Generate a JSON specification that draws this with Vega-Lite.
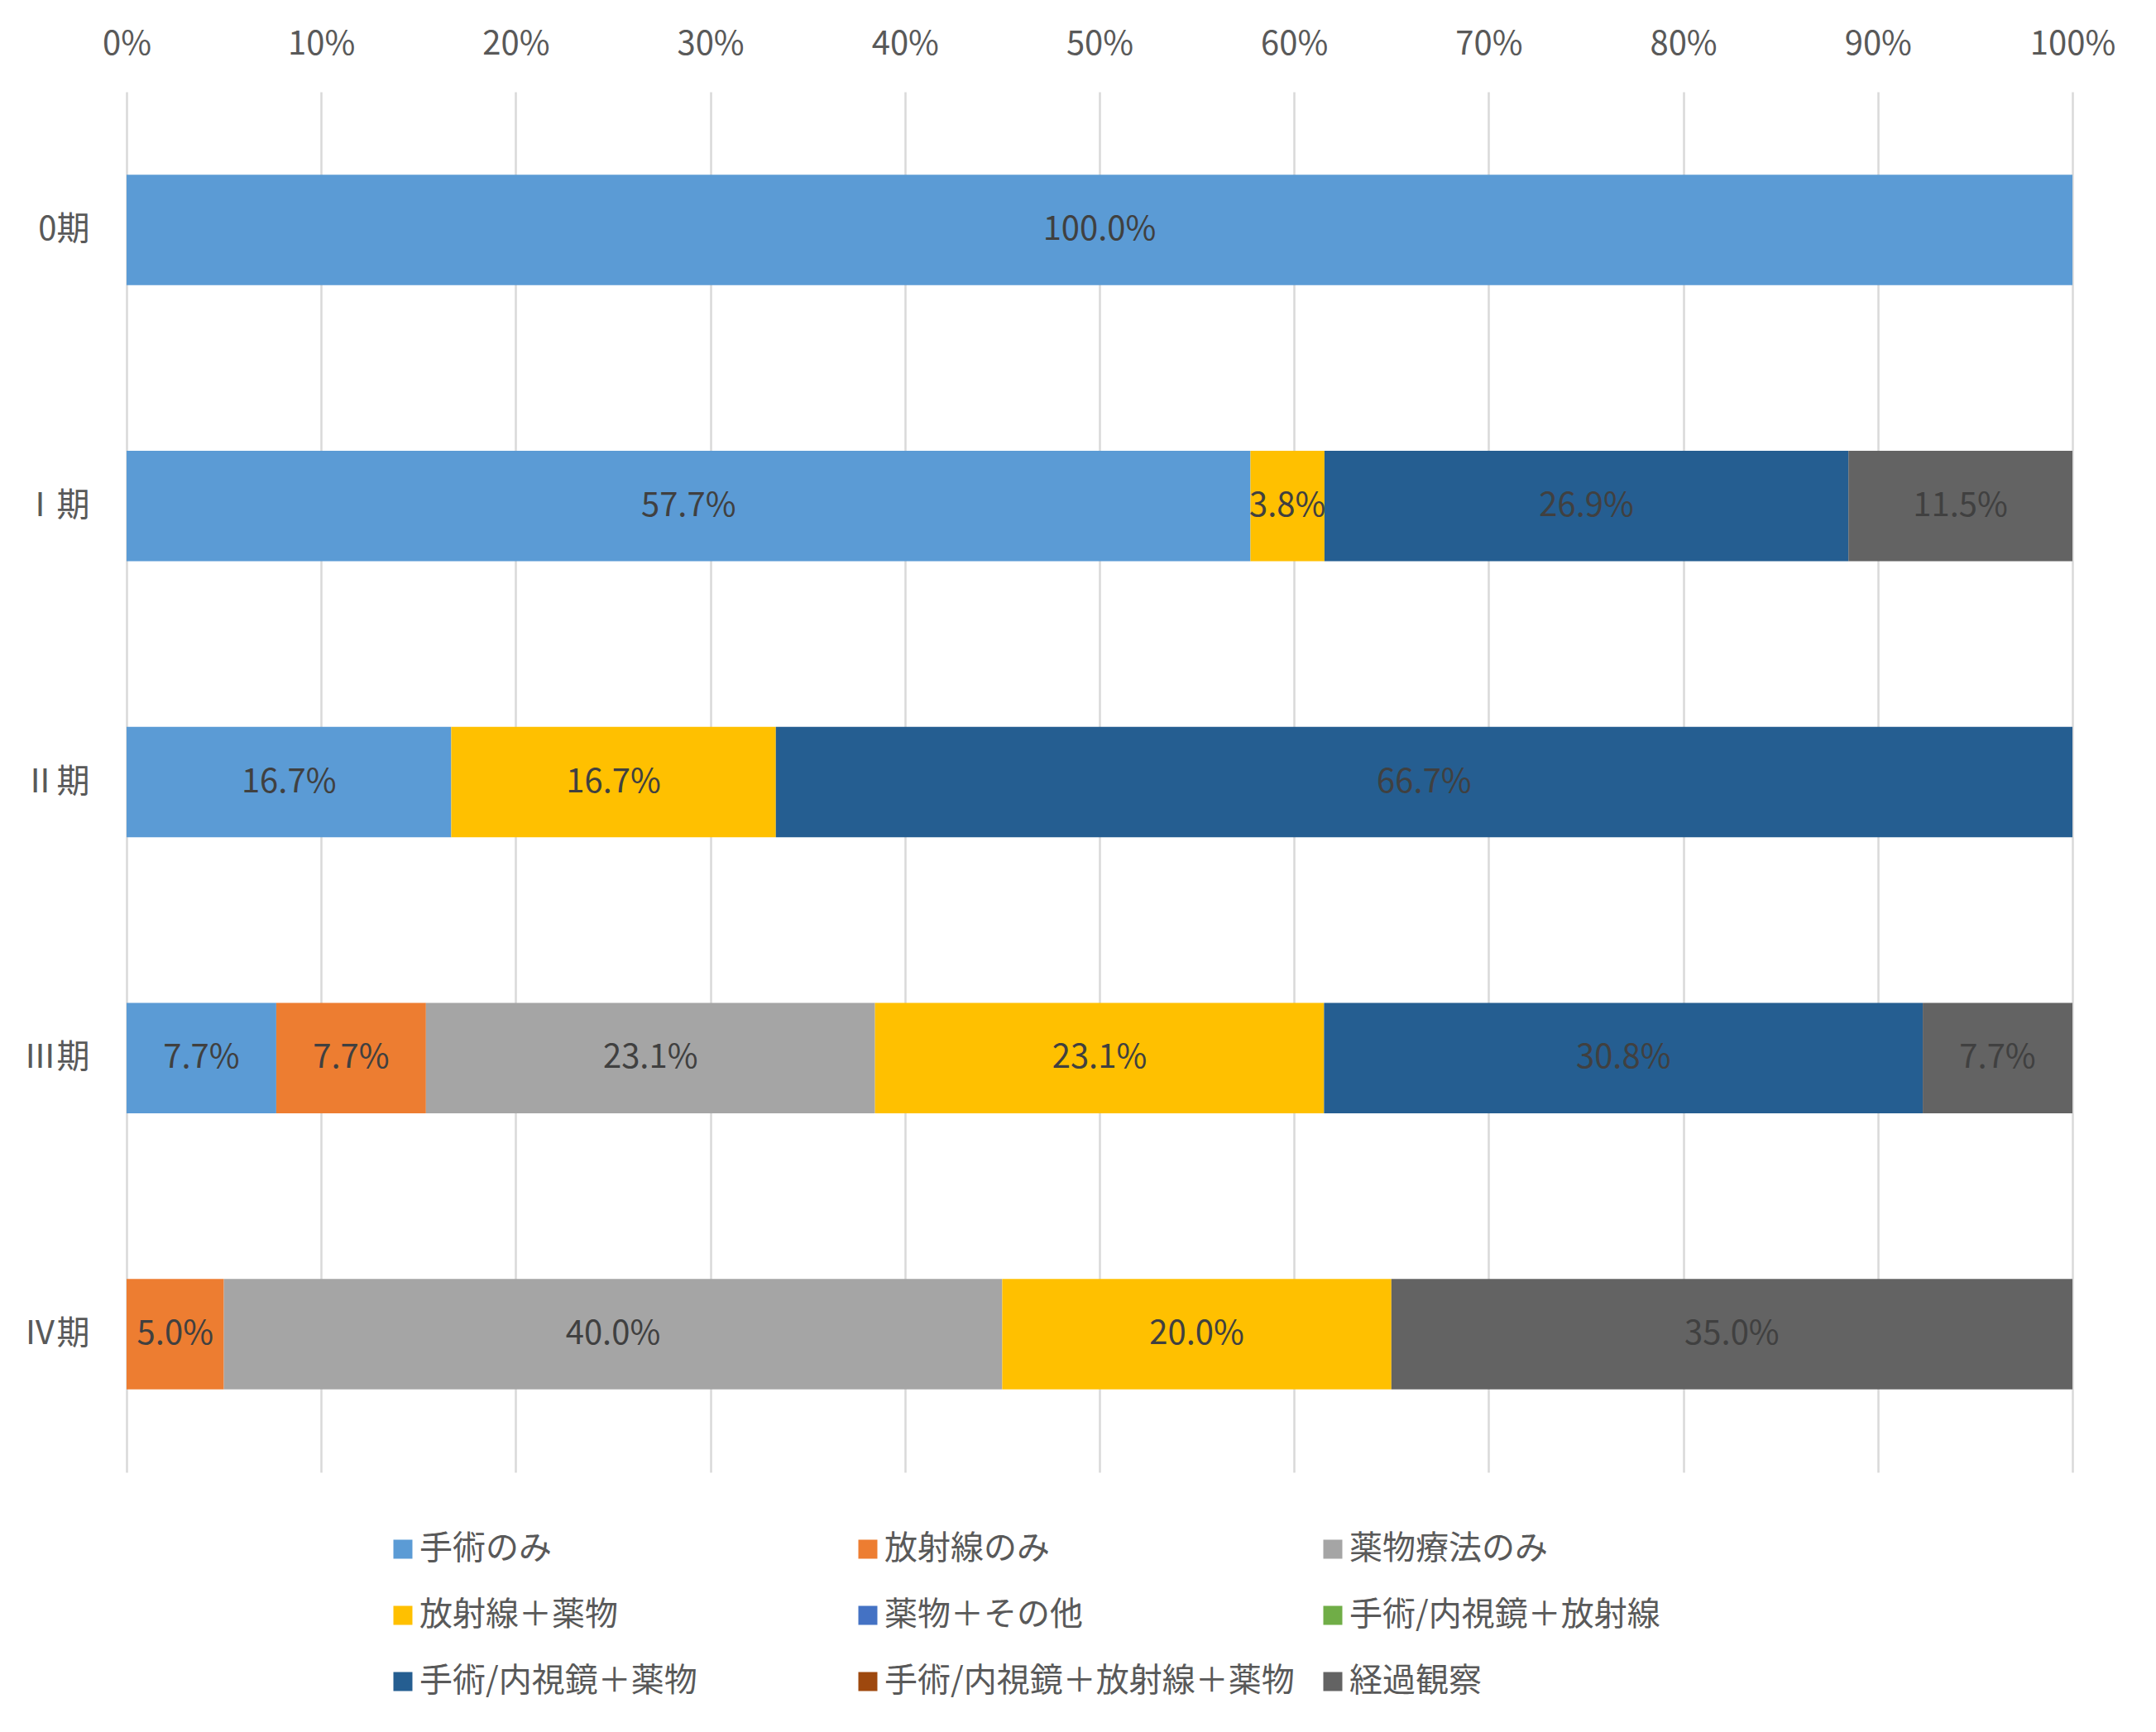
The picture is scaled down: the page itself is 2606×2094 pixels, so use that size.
{
  "$schema": "https://vega.github.io/schema/vega-lite/v6.json",
  "autosize": "none",
  "width": 2352,
  "height": 1669,
  "padding": {"left": 153, "top": 111, "right": 101, "bottom": 314},
  "background": "white",
  "data": {
    "values": [
      {"stage": "0期", "treatment": "手術のみ", "k": 1, "share": 1.0},
      {"stage": "Ⅰ期", "treatment": "手術のみ", "k": 1, "share": 0.577},
      {"stage": "Ⅰ期", "treatment": "放射線＋薬物", "k": 4, "share": 0.038},
      {"stage": "Ⅰ期", "treatment": "手術/内視鏡＋薬物", "k": 7, "share": 0.269},
      {"stage": "Ⅰ期", "treatment": "経過観察", "k": 9, "share": 0.115},
      {"stage": "Ⅱ期", "treatment": "手術のみ", "k": 1, "share": 0.167},
      {"stage": "Ⅱ期", "treatment": "放射線＋薬物", "k": 4, "share": 0.167},
      {"stage": "Ⅱ期", "treatment": "手術/内視鏡＋薬物", "k": 7, "share": 0.667},
      {"stage": "Ⅲ期", "treatment": "手術のみ", "k": 1, "share": 0.077},
      {"stage": "Ⅲ期", "treatment": "放射線のみ", "k": 2, "share": 0.077},
      {"stage": "Ⅲ期", "treatment": "薬物療法のみ", "k": 3, "share": 0.231},
      {"stage": "Ⅲ期", "treatment": "放射線＋薬物", "k": 4, "share": 0.231},
      {"stage": "Ⅲ期", "treatment": "手術/内視鏡＋薬物", "k": 7, "share": 0.308},
      {"stage": "Ⅲ期", "treatment": "経過観察", "k": 9, "share": 0.077},
      {"stage": "Ⅳ期", "treatment": "放射線のみ", "k": 2, "share": 0.05},
      {"stage": "Ⅳ期", "treatment": "薬物療法のみ", "k": 3, "share": 0.4},
      {"stage": "Ⅳ期", "treatment": "放射線＋薬物", "k": 4, "share": 0.2},
      {"stage": "Ⅳ期", "treatment": "経過観察", "k": 9, "share": 0.35}
    ]
  },
  "encoding": {
    "y": {
      "field": "stage",
      "type": "nominal",
      "sort": ["0期", "Ⅰ期", "Ⅱ期", "Ⅲ期", "Ⅳ期"],
      "scale": {"paddingInner": 0.6, "paddingOuter": 0.3},
      "axis": {
        "title": null,
        "ticks": false,
        "domain": false,
        "labelPadding": 45,
        "labelFontSize": 40,
        "labelColor": "#595959"
      }
    },
    "order": {"field": "k", "type": "quantitative"}
  },
  "layer": [
    {
      "mark": {"type": "bar"},
      "encoding": {
        "x": {
          "field": "share",
          "type": "quantitative",
          "stack": "normalize",
          "scale": {"domain": [0, 1], "nice": false},
          "axis": {
            "orient": "top",
            "title": null,
            "format": "%",
            "values": [0, 0.1, 0.2, 0.3, 0.4, 0.5, 0.6, 0.7, 0.8, 0.9, 1],
            "ticks": false,
            "domain": false,
            "grid": true,
            "gridColor": "#D9D9D9",
            "gridWidth": 2.5,
            "labelFlush": false,
            "labelOverlap": false,
            "labelBound": false,
            "labelPadding": 38,
            "labelFontSize": 40,
            "labelColor": "#595959"
          }
        },
        "color": {
          "field": "treatment",
          "type": "nominal",
          "scale": {
            "domain": ["手術のみ", "放射線のみ", "薬物療法のみ", "放射線＋薬物", "薬物＋その他", "手術/内視鏡＋放射線", "手術/内視鏡＋薬物", "手術/内視鏡＋放射線＋薬物", "経過観察"],
            "range": ["#5B9BD5", "#ED7D31", "#A5A5A5", "#FFC000", "#4472C4", "#70AD47", "#255E91", "#9E480E", "#636363"]
          },
          "legend": {
            "title": null,
            "orient": "none",
            "legendX": 314,
            "legendY": 1742,
            "direction": "horizontal",
            "columns": 3,
            "gridAlign": "all",
            "columnPadding": 26,
            "rowPadding": 40,
            "padding": 0,
            "symbolType": "square",
            "symbolSize": 529,
            "symbolStrokeWidth": 0,
            "symbolOpacity": 1,
            "labelOffset": 0,
            "labelFontSize": 40,
            "labelColor": "#595959",
            "labelLimit": 900
          }
        }
      }
    },
    {
      "mark": {"type": "text", "fontSize": 40, "color": "#404040", "baseline": "middle", "align": "center"},
      "encoding": {
        "x": {"field": "share", "type": "quantitative", "stack": "normalize", "bandPosition": 0.5},
        "detail": {"field": "treatment", "type": "nominal"},
        "text": {"field": "share", "type": "quantitative", "format": ".1%"}
      }
    }
  ],
  "config": {
    "font": "Noto Sans CJK JP",
    "view": {"stroke": null}
  }
}
